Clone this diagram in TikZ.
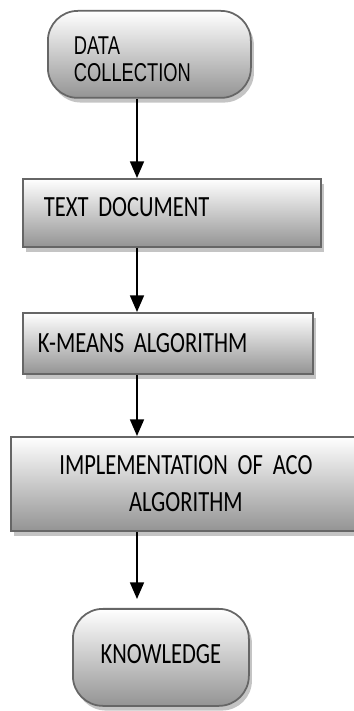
\documentclass[tikz,border=0pt]{standalone}
\usepackage{xcolor}
\usepackage{fontspec}
\usepackage{tikz}
\usetikzlibrary{shapes.geometric, arrows.meta, positioning, shadows}
\newfontfamily\calfont[FakeStretch=0.77]{Carlito}
\newfontfamily\arfont[FakeStretch=0.71]{Liberation Sans}
\DeclareRobustCommand\boxfont{\calfont\fontsize{25}{31.5}\selectfont\spaceskip=0.2em\relax}
\definecolor{bordergray}{RGB}{102, 102, 102}
\definecolor{shadowgray}{RGB}{196, 196, 196}

\begin{document}
\begin{tikzpicture}[
    box/.style={rectangle, draw=bordergray, line width=1.5pt,
                top color=white, bottom color=black!42, anchor=north west,
                drop shadow={shadow xshift=2.6pt, shadow yshift=-4pt, fill=shadowgray, opacity=1},
                font=\boxfont},
    term/.style={box, rounded corners=0.9cm},
    arrow/.style={-{Triangle[width=0.42cm, length=0.5cm]}, line width=1.5pt, black}
]
    \useasboundingbox (0,0) rectangle (10.59,21.33);

    % Start
    \node[term, minimum width=6.09cm, minimum height=2.61cm, text width=4.53cm,
          inner xsep=0.78cm, align=left, text height=0.81cm,
          font=\arfont\fontsize{22}{23}\selectfont]
          (datacoll) at (1.41,21.03) {DATA\\COLLECTION};

    % Steps
    \node[box, minimum width=8.94cm, minimum height=2.04cm, text width=7.68cm,
          inner xsep=0.63cm, align=left, text depth=0.33cm] (textdoc) at (0.66,15.99) {TEXT DOCUMENT};
    \node[box, minimum width=8.70cm, minimum height=1.83cm, text width=7.80cm,
          inner xsep=0.45cm, align=left] (kmeans) at (0.66,11.97) {K-MEANS ALGORITHM};
    \node[box, minimum width=10.5cm, minimum height=2.82cm, text width=9.5cm,
          align=center] (aco) at (0.30,8.25) {IMPLEMENTATION OF ACO\\ALGORITHM};

    % End
    \node[term, minimum width=5.28cm, minimum height=2.91cm, text depth=0.18cm]
          (knowledge) at (2.16,3.09) {KNOWLEDGE};

    % Connections
    \coordinate (spine) at (4.11,0);
    \draw[arrow] (datacoll.south -| spine) -- (textdoc.north -| spine);
    \draw[arrow] (textdoc.south -| spine) -- (kmeans.north -| spine);
    \draw[arrow] (kmeans.south -| spine) -- (aco.north -| spine);
    \draw[arrow, shorten >=0.27cm] (aco.south -| spine) -- (knowledge.north -| spine);

\end{tikzpicture}
\end{document}
